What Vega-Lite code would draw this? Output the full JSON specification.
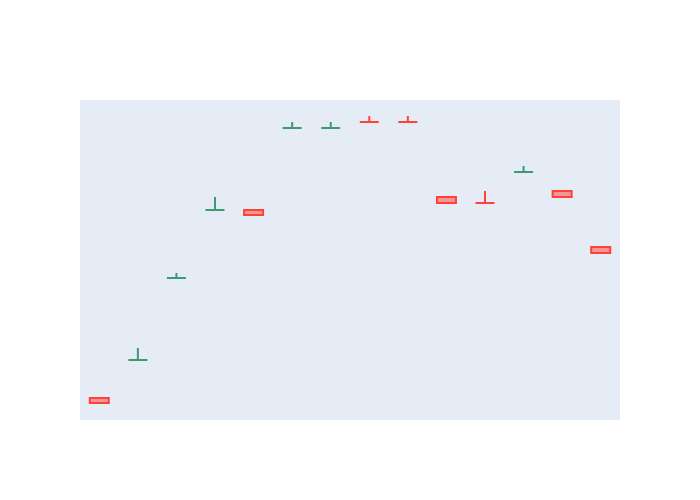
{
  "$schema": "https://vega.github.io/schema/vega-lite/v6.json",
  "width": 540,
  "height": 320,
  "autosize": {"type": "none"},
  "padding": {"left": 80, "top": 100, "right": 80, "bottom": 80},
  "background": "white",
  "view": {"fill": "#E5ECF6", "stroke": null},
  "data": {
    "values": [
      {"t": 1, "open": 22, "high": 22, "low": 17, "close": 17, "dir": "decreasing"},
      {"t": 2, "open": 60, "high": 72, "low": 60, "close": 60, "dir": "increasing"},
      {"t": 3, "open": 142, "high": 147, "low": 142, "close": 142, "dir": "increasing"},
      {"t": 4, "open": 210, "high": 223, "low": 210, "close": 210, "dir": "increasing"},
      {"t": 5, "open": 210, "high": 210, "low": 205, "close": 205, "dir": "decreasing"},
      {"t": 6, "open": 292, "high": 298, "low": 292, "close": 292, "dir": "increasing"},
      {"t": 7, "open": 292, "high": 298, "low": 292, "close": 292, "dir": "increasing"},
      {"t": 8, "open": 298, "high": 304, "low": 298, "close": 298, "dir": "decreasing"},
      {"t": 9, "open": 298, "high": 304, "low": 298, "close": 298, "dir": "decreasing"},
      {"t": 10, "open": 223, "high": 223, "low": 217, "close": 217, "dir": "decreasing"},
      {"t": 11, "open": 217, "high": 229, "low": 217, "close": 217, "dir": "decreasing"},
      {"t": 12, "open": 248, "high": 254, "low": 248, "close": 248, "dir": "increasing"},
      {"t": 13, "open": 229, "high": 229, "low": 223, "close": 223, "dir": "decreasing"},
      {"t": 14, "open": 173, "high": 173, "low": 167, "close": 167, "dir": "decreasing"}
    ]
  },
  "encoding": {
    "x": {"field": "t", "type": "ordinal", "axis": null, "scale": {"paddingInner": 0, "paddingOuter": 0}},
    "color": {"field": "dir", "type": "nominal", "legend": null,
      "scale": {"domain": ["increasing", "decreasing"], "range": ["#3D9970", "#FF4136"]}}
  },
  "layer": [
    {
      "mark": {"type": "rule", "strokeWidth": 2},
      "encoding": {
        "y": {"field": "open", "type": "quantitative", "axis": null, "scale": {"domain": [0, 320], "nice": false, "zero": false}},
        "y2": {"field": "high"}
      }
    },
    {
      "mark": {"type": "rule", "strokeWidth": 2},
      "encoding": {
        "y": {"field": "low", "type": "quantitative"},
        "y2": {"field": "close"}
      }
    },
    {
      "mark": {"type": "bar", "width": 19, "fillOpacity": 0.5, "strokeWidth": 2},
      "encoding": {
        "y": {"field": "open", "type": "quantitative"},
        "y2": {"field": "close"},
        "stroke": {"field": "dir", "type": "nominal", "legend": null,
          "scale": {"domain": ["increasing", "decreasing"], "range": ["#3D9970", "#FF4136"]}}
      }
    }
  ]
}
